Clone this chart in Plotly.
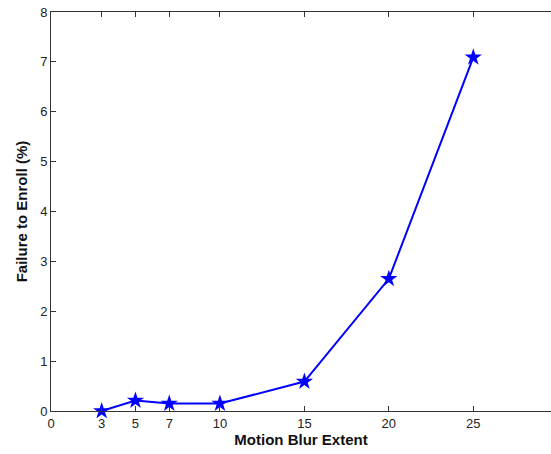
import plotly.graph_objects as go

blur_extent = [3, 5, 7, 10, 15, 20, 25]
fte_percent = [0.0, 0.21, 0.15, 0.15, 0.59, 2.65, 7.09]
x_ticks = [0, 3, 5, 7, 10, 15, 20, 25]
y_ticks = [0, 1, 2, 3, 4, 5, 6, 7, 8]

fig = go.Figure()
fig.add_trace(go.Scatter(
    x=blur_extent, y=fte_percent, mode="lines+markers",
    line=dict(color="#0000ff", width=2),
    marker=dict(symbol="star", size=13, color="#0000ff"),
    showlegend=False, cliponaxis=False,
))

fig.update_layout(
    width=551, height=454,
    margin=dict(l=51, r=0, t=12, b=43, autoexpand=False),
    paper_bgcolor="white", plot_bgcolor="white",
    font=dict(family="Liberation Sans, Arial, sans-serif", size=13, color="#222"),
    xaxis=dict(
        range=[0, 29.6], tickvals=x_ticks, ticktext=[str(v) for v in x_ticks],
        showgrid=False, zeroline=False, showline=True, linecolor="#333", linewidth=1,
        mirror="ticks", ticks="inside", ticklen=5, tickcolor="#333", automargin=False,
        title=dict(text="<b>Motion Blur Extent</b>", font=dict(size=15, color="#111"), standoff=2),
    ),
    yaxis=dict(
        range=[0, 8], tickvals=y_ticks,
        showgrid=False, zeroline=False, showline=True, linecolor="#333", linewidth=1,
        mirror=False, ticks="inside", ticklen=5, tickcolor="#333", automargin=False,
        title=dict(text="<b>Failure to Enroll (%)</b>", font=dict(size=15, color="#111"), standoff=8),
    ),
)

fig.write_html(
    "out.html",
    config={"displayModeBar": False},
    post_script=(
        "document.body.style.margin='0';"
        "document.body.style.overflow='hidden';"
        "document.documentElement.style.overflow='hidden';"
    ),
)
